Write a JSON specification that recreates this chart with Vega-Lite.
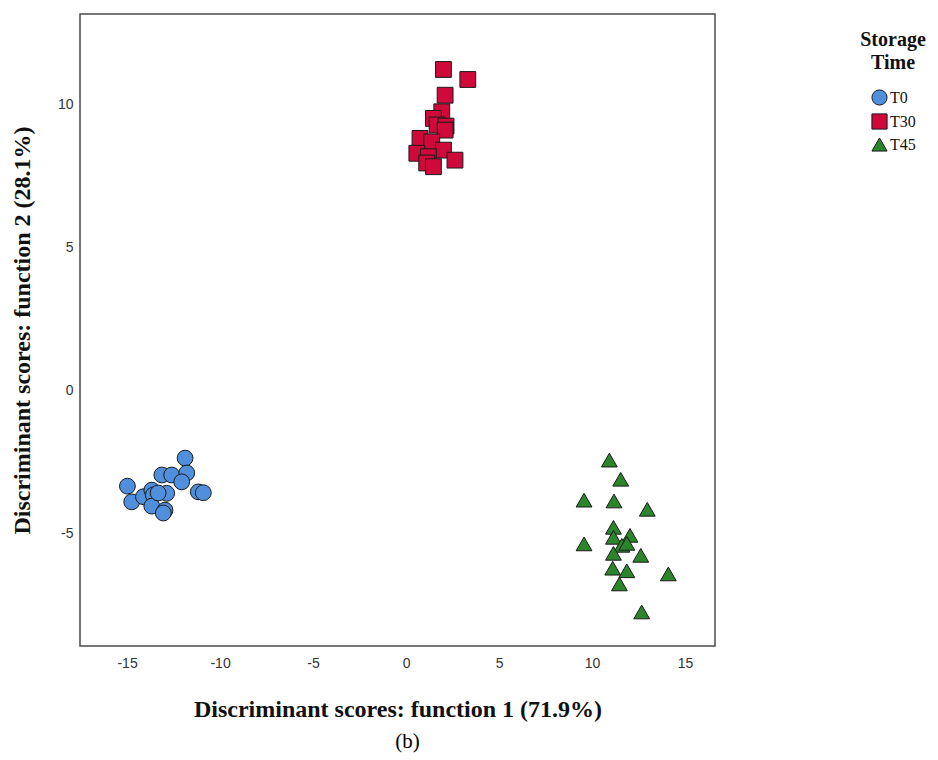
{
  "$schema": "https://vega.github.io/schema/vega-lite/v6.json",
  "width": 635,
  "height": 632,
  "autosize": {"type": "none"},
  "padding": {"left": 80, "top": 14, "right": 223, "bottom": 114},
  "background": "white",
  "title": {
    "text": "(b)",
    "orient": "bottom",
    "anchor": "middle",
    "dx": 10,
    "offset": 10,
    "font": "Liberation Serif",
    "fontSize": 21,
    "fontWeight": "normal",
    "color": "#000"
  },
  "config": {
    "view": {"stroke": "#4a4a4a", "strokeWidth": 1.5},
    "axis": {
      "domain": false,
      "grid": false,
      "ticks": false,
      "labelFont": "Liberation Sans",
      "labelFontSize": 14,
      "labelColor": "#333",
      "labelExpr": "replace(datum.label, '−', '-')",
      "titleFont": "Liberation Serif",
      "titleFontSize": 24,
      "titleFontWeight": "bold",
      "titleColor": "#111"
    }
  },
  "data": {
    "values": [
      {"x": -14.98, "y": -3.36, "g": "T0"},
      {"x": -14.75, "y": -3.91, "g": "T0"},
      {"x": -14.12, "y": -3.73, "g": "T0"},
      {"x": -13.67, "y": -3.50, "g": "T0"},
      {"x": -13.59, "y": -3.67, "g": "T0"},
      {"x": -13.67, "y": -4.06, "g": "T0"},
      {"x": -13.13, "y": -2.97, "g": "T0"},
      {"x": -12.96, "y": -4.20, "g": "T0"},
      {"x": -13.05, "y": -4.30, "g": "T0"},
      {"x": -12.87, "y": -3.61, "g": "T0"},
      {"x": -12.60, "y": -2.97, "g": "T0"},
      {"x": -11.88, "y": -2.38, "g": "T0"},
      {"x": -11.79, "y": -2.90, "g": "T0"},
      {"x": -12.06, "y": -3.21, "g": "T0"},
      {"x": -11.17, "y": -3.56, "g": "T0"},
      {"x": -10.90, "y": -3.59, "g": "T0"},
      {"x": -13.33, "y": -3.60, "g": "T0"},
      {"x": 2.01, "y": 11.21, "g": "T30"},
      {"x": 3.32, "y": 10.86, "g": "T30"},
      {"x": 2.10, "y": 10.31, "g": "T30"},
      {"x": 1.92, "y": 9.73, "g": "T30"},
      {"x": 1.47, "y": 9.50, "g": "T30"},
      {"x": 1.67, "y": 9.27, "g": "T30"},
      {"x": 2.15, "y": 9.23, "g": "T30"},
      {"x": 2.10, "y": 9.09, "g": "T30"},
      {"x": 0.75, "y": 8.80, "g": "T30"},
      {"x": 1.38, "y": 8.68, "g": "T30"},
      {"x": 0.58, "y": 8.28, "g": "T30"},
      {"x": 2.01, "y": 8.39, "g": "T30"},
      {"x": 1.20, "y": 8.16, "g": "T30"},
      {"x": 2.63, "y": 8.04, "g": "T30"},
      {"x": 1.11, "y": 7.94, "g": "T30"},
      {"x": 1.47, "y": 7.81, "g": "T30"},
      {"x": 10.93, "y": -2.45, "g": "T45"},
      {"x": 11.54, "y": -3.12, "g": "T45"},
      {"x": 9.57, "y": -3.85, "g": "T45"},
      {"x": 11.18, "y": -3.88, "g": "T45"},
      {"x": 12.97, "y": -4.17, "g": "T45"},
      {"x": 11.15, "y": -4.80, "g": "T45"},
      {"x": 11.15, "y": -5.15, "g": "T45"},
      {"x": 12.04, "y": -5.08, "g": "T45"},
      {"x": 11.60, "y": -5.43, "g": "T45"},
      {"x": 9.57, "y": -5.38, "g": "T45"},
      {"x": 11.87, "y": -5.36, "g": "T45"},
      {"x": 11.15, "y": -5.71, "g": "T45"},
      {"x": 12.62, "y": -5.78, "g": "T45"},
      {"x": 11.11, "y": -6.23, "g": "T45"},
      {"x": 11.87, "y": -6.32, "g": "T45"},
      {"x": 14.10, "y": -6.43, "g": "T45"},
      {"x": 11.47, "y": -6.78, "g": "T45"},
      {"x": 12.67, "y": -7.76, "g": "T45"}
    ]
  },
  "mark": {"type": "point", "filled": true, "opacity": 1, "size": 250, "stroke": "#1a1a1a", "strokeWidth": 1},
  "encoding": {
    "x": {
      "field": "x",
      "type": "quantitative",
      "scale": {"domain": [-17.53, 16.61], "nice": false, "zero": false},
      "axis": {"values": [-15, -10, -5, 0, 5, 10, 15], "labelPadding": 10, "title": "Discriminant scores: function 1 (71.9%)", "titlePadding": 27}
    },
    "y": {
      "field": "y",
      "type": "quantitative",
      "scale": {"domain": [-8.95, 13.15], "nice": false, "zero": false},
      "axis": {"values": [-5, 0, 5, 10], "labelPadding": 7, "title": "Discriminant scores: function 2 (28.1%)", "titlePadding": 23}
    },
    "fill": {
      "field": "g",
      "type": "nominal",
      "scale": {"domain": ["T0", "T30", "T45"], "range": ["#4f8fdc", "#cf0a3a", "#2b862b"]},
      "legend": {
        "title": ["Storage", "Time"],
        "orient": "none",
        "legendX": 780,
        "legendY": 16,
        "titleFont": "Liberation Serif",
        "titleFontSize": 20,
        "titleFontWeight": "bold",
        "titleColor": "#111",
        "titleAlign": "center",
        "titleAnchor": "middle",
        "titleLineHeight": 23,
        "titlePadding": 16,
        "labelFont": "Liberation Serif",
        "labelFontSize": 16,
        "labelColor": "#111",
        "symbolSize": 230,
        "symbolStrokeColor": "#1a1a1a",
        "symbolStrokeWidth": 1,
        "rowPadding": 3,
        "labelOffset": 2
      }
    },
    "shape": {
      "field": "g",
      "type": "nominal",
      "scale": {"domain": ["T0", "T30", "T45"], "range": ["circle", "square", "triangle-up"]}
    }
  }
}
